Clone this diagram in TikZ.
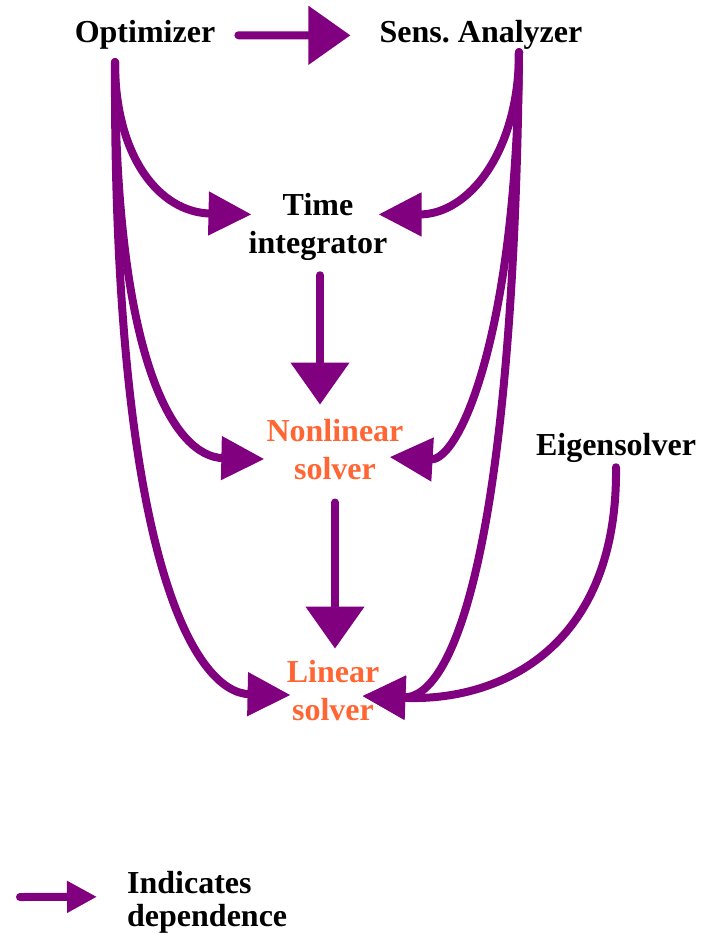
\documentclass[tikz,border=0pt]{standalone}
\usepackage{fontspec}
\setmainfont{Liberation Serif}
\usetikzlibrary{arrows.meta,calc}
\definecolor{depviolet}{HTML}{800080}
\definecolor{solverorange}{HTML}{FF6633}
\begin{document}
\begin{tikzpicture}[x=1pt,y=-1pt,
  lbl/.style={font=\fontsize{32}{38}\selectfont\bfseries, inner sep=0pt, align=center, anchor=base},
  solverlbl/.style={lbl, text=solverorange},
  depends/.style={draw=depviolet, line width=8pt, line cap=round,
    -{Triangle[length=43pt,width=42pt]}},
  bigdep/.style={depends, -{Triangle[length=42pt,width=57pt]}},
  smalldep/.style={depends, -{Triangle[length=30pt,width=30pt]}}]
\fill[white] (0,0) rectangle (708,934);
\useasboundingbox (0,0) rectangle (708,934);

% packages (base anchor sits on the last line's baseline)
\node[lbl] (opt) at (145,43) {Optimizer};
\node[lbl] (sens) at (481,43) {Sens.\ Analyzer};
\node[lbl] (time) at (318,253) {Time\\integrator};
\node[solverlbl] (nonlin) at (335,479) {Nonlinear\\solver};
\node[solverlbl] (lin) at (333,720) {Linear\\solver};
\node[lbl] (eig) at (616,455) {Eigensolver};

% dependences
\draw[bigdep] ($(opt.east)+(23,0)$) -- ($(sens.west)+(-29,0)$);

\draw[depends] ($(opt.south)+(-30,12)$) .. controls +(0,95) and +(-92,-2) .. ($(time.west)+(3,-12)$);
\draw[depends] ($(opt.south)+(-30,12)$) .. controls +(0,300) and +(-90,-2) .. ($(nonlin.west)+(-2,10)$);
\draw[depends] ($(opt.south)+(-30,12)$) .. controls +(-2,500) and +(-95,-2) .. ($(lin.west)+(4,5)$);

\draw[depends] ($(sens.south)+(38,2)$) .. controls +(0,100) and +(90,0) .. ($(time.east)+(-9,-12)$);
\draw[depends] ($(sens.south)+(38,2)$) .. controls +(-2,280) and +(70,4) .. ($(nonlin.east)+(-14,8)$);
\draw[depends] ($(sens.south)+(38,2)$) .. controls +(-5,490) and +(92,3) .. ($(lin.east)+(-17,6)$);
\draw[depends] ($(eig.south)+(0,5)$) .. controls +(2,180) and +(138,6) .. ($(lin.east)+(-17,6)$);

\draw[bigdep] ($(time.south)+(2,15)$) -- ($(time.south |- nonlin.north)+(2,-14)$);
\draw[bigdep] ($(nonlin.south)+(0,23)$) -- ($(nonlin.south |- lin.north)+(0,-11)$);

% legend
\node[lbl, anchor=base west, align=left, font=\fontsize{32}{33}\selectfont\bfseries] (leg) at (127,926) {Indicates\\dependence};
\coordinate (legtail) at (20,897);
\draw[smalldep] (legtail) -- ($(leg.west)+(-30,-5)$);
\end{tikzpicture}
\end{document}
